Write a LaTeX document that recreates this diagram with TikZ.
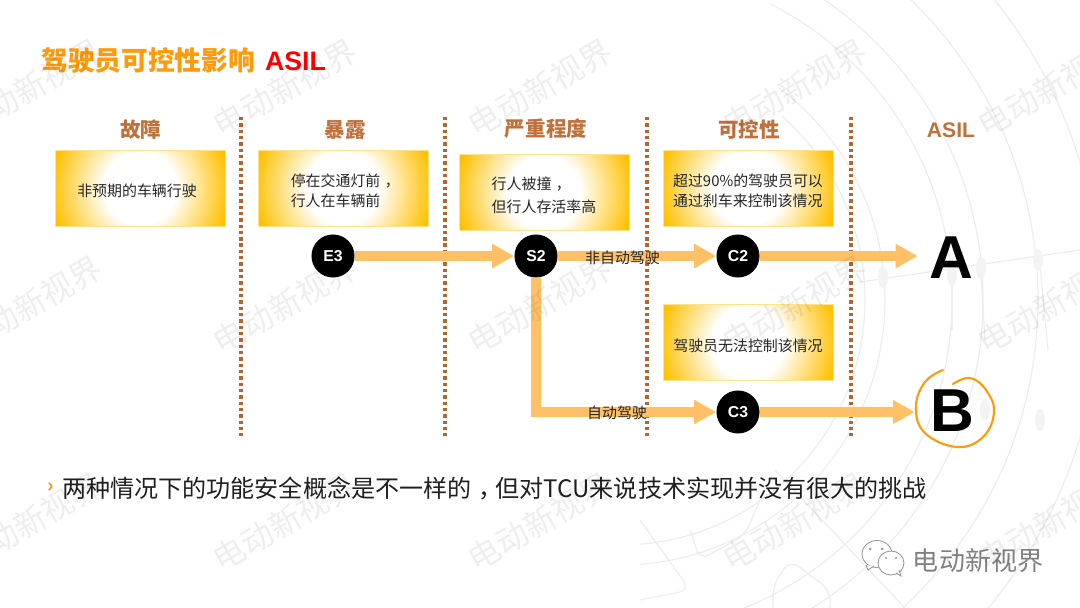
\documentclass[tikz,border=0pt]{standalone}
\usepackage{fontspec}
\setmainfont{Noto Sans CJK SC}
\setsansfont{Liberation Sans}
\usetikzlibrary{arrows.meta}
\usetikzlibrary{shapes}
\definecolor{titleorange}{HTML}{FF9A0A}
\definecolor{headbrown}{HTML}{C0703A}
\definecolor{dotbrown}{HTML}{B8652B}
\definecolor{boxgold}{HTML}{FFC000}
\definecolor{flowyellow}{HTML}{FFC066}
\definecolor{faintgray}{HTML}{EDEDED}
\pgfdeclareradialshading{boxglow}{\pgfpoint{0bp}{0bp}}{color(0bp)=(white);color(10bp)=(white);color(25bp)=(boxgold);color(50bp)=(boxgold)}
\newcommand{\boxtop}{\rule{0pt}{10.5pt}}
\newcommand{\midcomma}{\hspace{.3em}，\hspace{-.3em}}
\tikzset{
    glowbox/.style={fill=boxgold, draw=boxgold!45, line width=0.4pt, minimum width=3.4cm, minimum height=1.52cm, inner sep=0pt, align=left,
        font=\fontsize{8.5}{11}\selectfont, text=black!85,
        path picture={\shade[shading=boxglow] (path picture bounding box.center) circle (90);}},
    headlabel/.style={text=headbrown, font=\fontsize{11.7}{14}\selectfont\bfseries},
    levelnode/.style={circle, fill=black, text=white, minimum size=24.5pt, inner sep=0pt, font=\sffamily\bfseries\fontsize{9}{11}\selectfont},
    flowline/.style={draw=flowyellow, line width=6.2pt, -{Triangle[length=12.5pt, width=13pt]}},
    flowlabel/.style={inner sep=0pt, text=black!85, font=\fontsize{8.5}{11}\selectfont},
    columnline/.style={draw=dotbrown, line width=2pt, dash pattern=on 1.9pt off 1.7pt},
    gradeletter/.style={text=black, inner sep=0pt, font=\sffamily\bfseries\fontsize{34.5}{38}\selectfont},
    watermark/.style={rotate=30, text=black, opacity=0.065, font=\fontsize{18.2}{22}\selectfont},
    faintline/.style={draw=faintgray, line width=0.7pt},
}
\begin{document}
\begin{tikzpicture}[x=0.02cm, y=-0.02cm, >=stealth]
    \useasboundingbox (0,0) rectangle (1080,608);

    % Faint rings at the back
    \begin{scope}
        \clip (770,0) -- (1080,0) -- (1080,608) -- (640,608) -- (640,470) -- (800,300) -- cycle;
        \foreach \r in {245,265,332,363,418,480} {
            \draw[faintline] (620,300) circle (\r);
        }
        \draw[faintline] (860,282) -- (1080,250);
        \draw[faintline] (775,470) -- (905,608);
        \draw[faintline] (952,285) -- (952,330);
        \draw[faintline] (981,275) -- (985,340);
        \draw[faintline] (1040,265) -- (1048,350);
        \foreach \px/\py in {883/277,952/275,981/268,1038/260,1040/420,985/410} {
            \fill[faintgray!70] (\px,\py) ellipse (5 and 11);
        }
        % circuit traces along the foot
        \draw[faintline, rounded corners=6] (773,608) -- (773,585) -- (790,560) -- (830,590) -- (830,608);
        \draw[faintline, rounded corners=6] (690,530) -- (700,560) -- (745,535) -- (760,500);
        \draw[faintline, rounded corners=6] (640,520) -- (690,590) -- (640,600);
    \end{scope}

    % Title
    \node[anchor=west, inner sep=0pt] (title) at (41,60) {\fontsize{15.2}{18}\selectfont\bfseries\textcolor{titleorange}{驾驶员可控性影响} \hspace{2.3pt}\textcolor{red}{\sffamily ASIL}};

    % Column separators
    \coordinate (sepatop) at (241,117); \coordinate (sepabot) at (241,436);
    \coordinate (sepbtop) at (445,117); \coordinate (sepbbot) at (445,436);
    \coordinate (sepctop) at (647,117); \coordinate (sepcbot) at (647,436);
    \coordinate (sepdtop) at (851,117); \coordinate (sepdbot) at (851,436);
    \draw[columnline] (sepatop) -- (sepabot);
    \draw[columnline] (sepbtop) -- (sepbbot);
    \draw[columnline] (sepctop) -- (sepcbot);
    \draw[columnline] (sepdtop) -- (sepdbot);

    % Column headers
    \node[headlabel] (fault) at (141,130) {故障};
    \node[headlabel] (exposure) at (345,130) {暴露};
    \node[headlabel] (severity) at (546,129) {严重程度};
    \node[headlabel] (control) at (749,130) {可控性};
    \node[headlabel, font=\sffamily\bfseries\fontsize{12}{14}\selectfont] (asil) at (951,130) {ASIL};

    % Description boxes
    \node[glowbox] (faultbox) at (140,188) {\boxtop 非预期的车辆行驶\hspace{3.4pt}};
    \node[glowbox] (exposurebox) at (343,188) {\boxtop\hspace*{2.6pt}停在交通灯前\midcomma\\\hspace*{2.6pt}行人在车辆前};
    \node[glowbox] (severitybox) at (544,192.5) {\boxtop 行人被撞\midcomma\\[2pt]但行人存活率高\hspace{5pt}};
    \node[glowbox] (controlbox) at (748,188) {\boxtop 超过90\%的驾驶员可以\\通过刹车来控制该情况};
    \node[glowbox] (nocontrolbox) at (748,342.5) {\boxtop 驾驶员无法控制该情况};

    % Level nodes
    \node[levelnode] (E3) at (333,256) {E3};
    \node[levelnode] (S2) at (536,256) {S2};
    \node[levelnode] (C2) at (738,256) {C2};
    \node[levelnode] (C3) at (738,412) {C3};
    \node[gradeletter, minimum width=37.5pt] (gradeA) at (951,258) {A};
    \node[gradeletter, minimum width=42pt] (gradeB) at (952,411) {B};

    % Flow arrows
    \draw[flowline] (E3) -- (S2);
    \draw[flowline] (S2) -- (C2);
    \draw[flowline] (C2) -- (C2 -| gradeA.west);
    \draw[flowline] (S2) |- (C3);
    \draw[flowline] (C3) -- (C3 -| gradeB.west);

    % Flow labels
    \node[flowlabel] (manual) at (622.5,258) {非自动驾驶};
    \node[flowlabel] (auto) at (617,413) {自动驾驶};

    % Ring round the grade
    \draw[draw=titleorange, line width=1.2pt, line cap=round] plot[smooth, tension=0.7] coordinates {(943,370) (925,382) (916,407) (925,433) (957,447) (983,437) (994,412) (986,390) (970,378) (953,384)};

    % Note below
    \node[anchor=west, inner sep=0pt, text=titleorange] (notemark) at (47,488) {\fontsize{11}{14}\selectfont\bfseries ›};
    \node[anchor=west, inner sep=0pt, text=black!88] (note) at (62,488) {\fontsize{13.7}{16}\selectfont 两种情况下的功能安全概念是不一样的\midcomma 但对TCU来说技术实现并没有很大的挑战};

    % Account mark
    \draw[draw=black!40, fill=white, line width=0.5pt] (877,554) ellipse (15 and 13.5);
    \draw[draw=black!40, fill=white, line width=0.5pt] (866,565) -- (868,570) -- (874,566);
    \draw[draw=black!40, fill=white, line width=0.5pt] (891,563) ellipse (13 and 12);
    \draw[draw=black!40, fill=white, line width=0.5pt] (896,573) -- (901,576) -- (899,570);
    \fill[black!40] (870,549) circle (1.5) (882,549) circle (1.5) (886,558) circle (1.2) (896,558) circle (1.2);
    \node[inner sep=0pt, text=black!50] (account) at (978,561) {\fontsize{14.8}{18}\selectfont 电动新视界};

    % Watermarks
    \foreach \wx in {30,285,540,795,1050} {
        \foreach \wy in {88,305,522} {
            \node[watermark] (wm\wx-\wy) at (\wx,\wy) {电动新视界};
        }
    }
\end{tikzpicture}
\end{document}
